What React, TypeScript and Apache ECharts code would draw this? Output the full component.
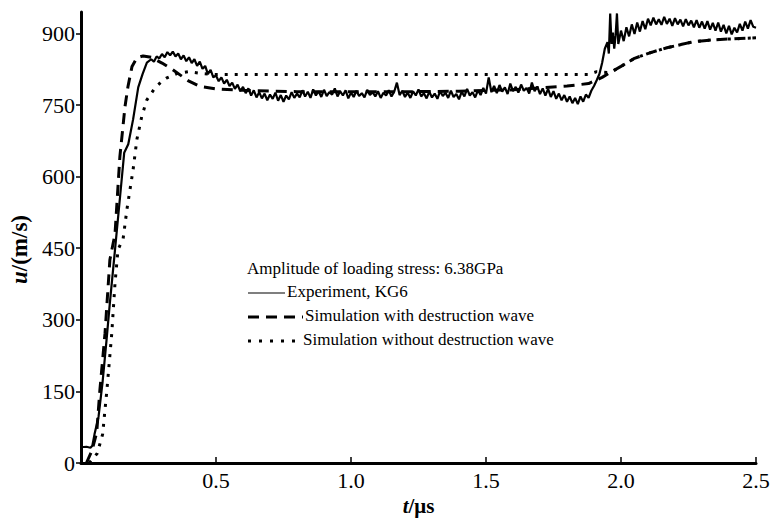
import React, { useEffect, useRef } from "react";
import * as echarts from "echarts";

const yTicks = [0, 150, 300, 450, 600, 750, 900];

const legendTitle = "Amplitude of loading stress: 6.38GPa";
const seriesNames = [
  "Experiment, KG6",
  "Simulation with destruction wave",
  "Simulation without destruction wave",
];

const experiment: [number, number][] = [
  [0, 33], [0.02, 34], [0.035, 32], [0.042, 36], [0.05, 60], [0.065, 97], [0.08, 170],
  [0.095, 260], [0.107, 336], [0.126, 447], [0.145, 560], [0.16, 650], [0.175, 668],
  [0.193, 720], [0.212, 787], [0.228, 815], [0.244, 839], [0.26, 846], [0.27, 841], [0.28, 852],
  [0.29, 848], [0.3, 857], [0.31, 850], [0.32, 861], [0.33, 854], [0.34, 862], [0.35, 852],
  [0.36, 858], [0.37, 846], [0.38, 854], [0.39, 842], [0.4, 850], [0.41, 838], [0.42, 846],
  [0.43, 832], [0.44, 841], [0.45, 826], [0.46, 832], [0.47, 815], [0.48, 824], [0.49, 808],
  [0.5, 812], [0.51, 800], [0.52, 808], [0.53, 795], [0.54, 803], [0.55, 790], [0.56, 797],
  [0.57, 784], [0.58, 793], [0.59, 779], [0.6, 788], [0.61, 775], [0.62, 785], [0.63, 770],
  [0.64, 781], [0.65, 766], [0.66, 777], [0.67, 764], [0.68, 774], [0.69, 760], [0.7, 772],
  [0.71, 763], [0.72, 776], [0.73, 759], [0.74, 771], [0.75, 757], [0.76, 770], [0.77, 762],
  [0.78, 777], [0.79, 765], [0.8, 774], [0.81, 766], [0.82, 781], [0.83, 768], [0.84, 778],
  [0.85, 765], [0.86, 783], [0.87, 770], [0.88, 779], [0.89, 767], [0.9, 782], [0.91, 769],
  [0.92, 777], [0.93, 772], [0.94, 785], [0.95, 768], [0.96, 779], [0.97, 770], [0.98, 781],
  [0.99, 764], [1.0, 776], [1.01, 767], [1.02, 780], [1.03, 769], [1.04, 775], [1.05, 766],
  [1.06, 782], [1.07, 771], [1.08, 777], [1.09, 768], [1.1, 779], [1.11, 765], [1.12, 776],
  [1.13, 770], [1.14, 781], [1.15, 768], [1.16, 778], [1.17, 797], [1.18, 771], [1.19, 780],
  [1.2, 767], [1.21, 776], [1.22, 765], [1.23, 779], [1.24, 770], [1.25, 783], [1.26, 768],
  [1.27, 775], [1.28, 764], [1.29, 778], [1.3, 766], [1.31, 774], [1.32, 763], [1.33, 779],
  [1.34, 769], [1.35, 776], [1.36, 765], [1.37, 780], [1.38, 767], [1.39, 773], [1.4, 762],
  [1.41, 778], [1.42, 768], [1.43, 784], [1.44, 770], [1.45, 777], [1.46, 766], [1.47, 781],
  [1.48, 771], [1.49, 786], [1.5, 774], [1.51, 808], [1.52, 777], [1.53, 790], [1.54, 775],
  [1.55, 792], [1.56, 778], [1.57, 787], [1.58, 773], [1.59, 795], [1.6, 779], [1.61, 788],
  [1.62, 776], [1.63, 793], [1.64, 780], [1.65, 786], [1.66, 774], [1.67, 797], [1.68, 779],
  [1.69, 789], [1.7, 773], [1.71, 785], [1.72, 770], [1.73, 784], [1.74, 767], [1.75, 779],
  [1.76, 763], [1.77, 774], [1.78, 760], [1.79, 771], [1.8, 757], [1.81, 768], [1.82, 754],
  [1.83, 765], [1.84, 752], [1.85, 768], [1.86, 757], [1.87, 772], [1.88, 765], [1.89, 780],
  [1.9, 790], [1.91, 802], [1.92, 815], [1.93, 838], [1.94, 868], [1.95, 882], [1.955, 858],
  [1.96, 942], [1.965, 878], [1.97, 902], [1.975, 868], [1.98, 896], [1.985, 942], [1.99, 878],
  [2.0, 906], [2.01, 884], [2.02, 913], [2.03, 894], [2.04, 919], [2.05, 899], [2.06, 923],
  [2.07, 904], [2.08, 926], [2.09, 909], [2.1, 931], [2.11, 917], [2.12, 933], [2.13, 919],
  [2.14, 930], [2.15, 918], [2.16, 935], [2.17, 920], [2.18, 931], [2.19, 916], [2.2, 932],
  [2.21, 919], [2.22, 929], [2.23, 915], [2.24, 930], [2.25, 917], [2.26, 927], [2.27, 913],
  [2.28, 928], [2.29, 912], [2.3, 925], [2.31, 910], [2.32, 926], [2.33, 908], [2.34, 922],
  [2.35, 906], [2.36, 923], [2.37, 904], [2.38, 918], [2.39, 900], [2.4, 916], [2.41, 898],
  [2.42, 912], [2.43, 902], [2.44, 920], [2.45, 906], [2.46, 925], [2.47, 910], [2.48, 928],
  [2.49, 914], [2.5, 912],
];

const withWave: [number, number][] = [
  [0.02, 0], [0.04, 25], [0.058, 63], [0.07, 153], [0.089, 272], [0.107, 426], [0.126, 480],
  [0.144, 642], [0.163, 747], [0.174, 789], [0.189, 831], [0.207, 849], [0.23, 853],
  [0.26, 850], [0.3, 838], [0.34, 824], [0.4, 800], [0.44, 789], [0.5, 784], [0.6, 781],
  [0.8, 778], [1.0, 778], [1.2, 778], [1.4, 779], [1.6, 782], [1.8, 790], [1.88, 795],
  [1.93, 808], [1.96, 818], [2.0, 831], [2.05, 848], [2.11, 860], [2.17, 870], [2.27, 883],
  [2.35, 887], [2.5, 891],
];

const withoutWave: [number, number][] = [
  [0.03, 0], [0.06, 20], [0.08, 60], [0.096, 153], [0.114, 272], [0.126, 377], [0.137, 447],
  [0.156, 470], [0.17, 531], [0.193, 615], [0.207, 678], [0.225, 726], [0.244, 761],
  [0.274, 786], [0.3, 800], [0.318, 807], [0.355, 816], [0.4, 820], [0.45, 816], [0.5, 814],
  [1.0, 814], [1.5, 814], [1.88, 814], [1.91, 820], [1.96, 818], [2.0, 831], [2.05, 848],
  [2.11, 860], [2.17, 870], [2.27, 883], [2.35, 887], [2.5, 891],
];

const FONT = "Liberation Serif";

export default function App() {
  const ref = useRef<HTMLDivElement>(null);
  useEffect(() => {
    document.body.style.margin = "0";
    const chart = echarts.init(ref.current!, null, { renderer: "svg" });
    const txt = { fontFamily: FONT, fontSize: 17, fill: "#000" };
    chart.setOption({
      animation: false,
      backgroundColor: "#fff",
      grid: { left: 81, right: 26, top: 12, bottom: 56, containLabel: false, outerBoundsMode: "none" },
      xAxis: {
        type: "value",
        min: 0,
        max: 2.5,
        interval: 0.5,
        name: "{i|t}/μs",
        nameLocation: "middle",
        nameGap: 30,
        nameTextStyle: {
          fontFamily: FONT, fontSize: 21, fontWeight: "bold", color: "#000",
          rich: { i: { fontFamily: FONT, fontSize: 21, fontWeight: "bold", fontStyle: "italic", color: "#000" } },
        },
        axisLine: { lineStyle: { color: "#000", width: 3 } },
        axisTick: { inside: true, length: 6, lineStyle: { color: "#000", width: 1.5 } },
        splitLine: { show: false },
        axisLabel: {
          color: "#000", fontFamily: FONT, fontSize: 22, margin: 6,
          formatter: (v: number) => (v === 0 ? "" : v.toFixed(1)),
        },
      },
      yAxis: {
        type: "value",
        min: 0,
        max: 945,
        name: "{i|u}/(m/s)",
        nameLocation: "middle",
        nameGap: 48,
        nameRotate: 90,
        nameTextStyle: {
          fontFamily: FONT, fontSize: 23, fontWeight: "bold", color: "#000", padding: [0, 24, 0, 0],
          rich: { i: { fontFamily: FONT, fontSize: 23, fontWeight: "bold", fontStyle: "italic", color: "#000" } },
        },
        axisLine: { lineStyle: { color: "#000", width: 3 } },
        axisTick: { inside: false, length: 5, customValues: yTicks, lineStyle: { color: "#000", width: 1.5 } },
        splitLine: { show: false },
        axisLabel: { color: "#000", fontFamily: FONT, fontSize: 22, margin: 6, customValues: yTicks },
      },
      series: [
        {
          name: seriesNames[0], type: "line", data: experiment, showSymbol: false,
          lineStyle: { color: "#000", width: 2.2 }, z: 3,
        },
        {
          name: seriesNames[1], type: "line", data: withWave, showSymbol: false,
          lineStyle: { color: "#000", width: 3, type: [11, 7] }, z: 2,
        },
        {
          name: seriesNames[2], type: "line", data: withoutWave, showSymbol: false,
          lineStyle: { color: "#000", width: 3, type: [3, 7] }, z: 2,
        },
      ],
      graphic: [
        { type: "text", left: 247, top: 260, style: { ...txt, text: legendTitle } },
        { type: "line", shape: { x1: 248, y1: 293, x2: 285, y2: 293 }, style: { stroke: "#000", lineWidth: 1.2 } },
        { type: "text", left: 287, top: 283, style: { ...txt, text: seriesNames[0] } },
        { type: "line", shape: { x1: 248, y1: 317, x2: 303, y2: 317 }, style: { stroke: "#000", lineWidth: 3, lineDash: [11, 7] } },
        { type: "text", left: 305, top: 307, style: { ...txt, text: seriesNames[1] } },
        { type: "line", shape: { x1: 248, y1: 341, x2: 302, y2: 341 }, style: { stroke: "#000", lineWidth: 3, lineDash: [3, 8] } },
        { type: "text", left: 303, top: 331, style: { ...txt, text: seriesNames[2] } },
      ],
    });
    return () => chart.dispose();
  }, []);
  return <div ref={ref} style={{ width: 782, height: 519 }} />;
}
